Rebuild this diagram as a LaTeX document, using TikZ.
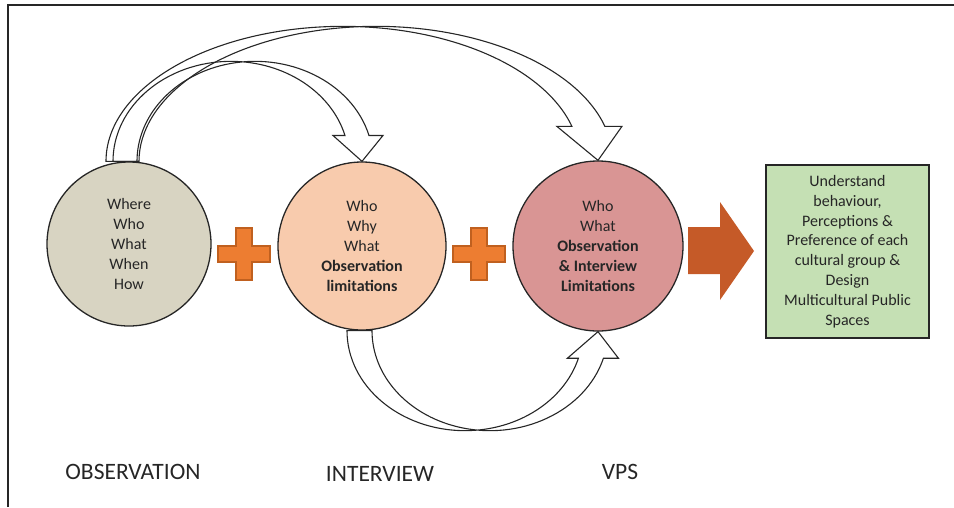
\documentclass[tikz,border=0pt]{standalone}
\usepackage{fontspec}
\setmainfont{Carlito}

\definecolor{obsfill}{HTML}{D8D4C2}
\definecolor{itvfill}{HTML}{F8CBAD}
\definecolor{vpsfill}{HTML}{D99594}
\definecolor{goalfill}{HTML}{C5E0B4}
\definecolor{plusfill}{HTML}{ED7D31}
\definecolor{plusline}{HTML}{C0601F}
\definecolor{bigarrow}{HTML}{C55A28}
\definecolor{ink}{HTML}{262626}

\tikzset{
  stage/.style={circle, draw=ink, line width=1.3pt, text=ink, align=center,
                inner sep=0pt, font=\fontsize{16}{20}\selectfont},
  hollow/.style={draw=ink, line width=1.1pt, line join=miter},
  plusmark/.style={fill=plusfill, draw=plusline, line width=1.2pt},
  caption/.style={text=ink, font=\fontsize{23.5}{28}\selectfont}
}

\begin{document}
\begin{tikzpicture}[x=1pt, y=-1pt]
      \useasboundingbox (0,0) rectangle (954,507);
      \draw[ink, line width=1.3pt] (8,507) -- (8,5) -- (954,5);

      \node[stage, fill=obsfill, minimum size=164pt] (obs) at (129,244)
        {Where\\Who\\What\\When\\How};
      \node[stage, fill=itvfill, minimum size=168pt] (itv) at (362,246)
        {Who\\Why\\What\\\textbf{Observation}\\\textbf{limitations}};
      \node[stage, fill=vpsfill, minimum size=170pt] (vps) at (598,246)
        {Who\\What\\\textbf{Observation}\\\textbf{\& Interview}\\\textbf{Limitations}};
      \node[draw=ink, fill=goalfill, line width=1.3pt, text=ink, align=center,
            minimum width=163pt, minimum height=173pt,
            font=\fontsize{16}{19.8}\selectfont] (goal) at (847.5,251.5)
        {Understand\\behaviour,\\Perceptions \&\\Preference of each\\cultural group \&\\Design\\Multicultural Public\\Spaces};

      \foreach \cx in {244, 479}
        \draw[plusmark] (\cx,254) ++(-8,-26) -- ++(16,0) -- ++(0,18) -- ++(18,0)
          -- ++(0,16) -- ++(-18,0) -- ++(0,18) -- ++(-16,0) -- ++(0,-18)
          -- ++(-18,0) -- ++(0,-16) -- ++(18,0) -- cycle;

      \fill[bigarrow] (688,227) -- (720,227) -- (720,202) -- (754,251)
        -- (720,300) -- (720,274) -- (688,274) -- cycle;

      \draw[hollow] ([xshift=-23pt]obs.north)
        arc[start angle=180, end angle=345, x radius=237, y radius=135] coordinate (b1)
        -- ([xshift=-15pt]b1) -- (vps.north) -- ([xshift=50pt]b1) -- ([xshift=33pt]b1)
        arc[start angle=345, end angle=180, x radius=237, y radius=135] -- cycle;
      \draw[hollow] ([xshift=-16pt]obs.north)
        arc[start angle=180, end angle=345, x radius=118, y radius=100] coordinate (b2)
        -- ([xshift=-12pt]b2) -- (itv.north) -- ([xshift=38pt]b2) -- ([xshift=24pt]b2)
        arc[start angle=345, end angle=180, x radius=118, y radius=100] -- cycle;
      \draw[hollow] ([xshift=-15pt]itv.south)
        arc[start angle=180, end angle=16, x radius=118, y radius=100] coordinate (b3)
        -- ([xshift=-11pt]b3) -- (vps.south) -- ([xshift=40pt]b3) -- ([xshift=25pt]b3)
        arc[start angle=16, end angle=180, x radius=118, y radius=100] -- cycle;

      \node[caption] (obslabel) at (133,472) {OBSERVATION};
      \node[caption] (itvlabel) at (380,474) {INTERVIEW};
      \node[caption] (vpslabel) at (620,472) {VPS};
    \end{tikzpicture}
\end{document}
